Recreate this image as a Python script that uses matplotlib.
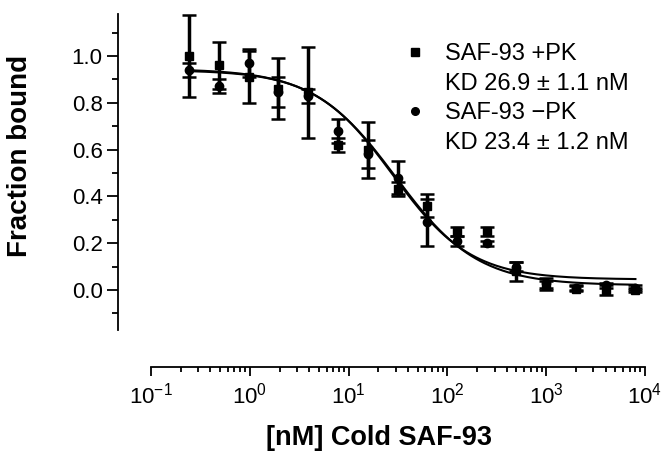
import numpy as np
import matplotlib
matplotlib.use("Agg")
import matplotlib.pyplot as plt
from matplotlib.lines import Line2D
from matplotlib.ticker import LogLocator, FixedLocator, FormatStrFormatter, NullFormatter

plt.rcParams['font.family'] = ['Liberation Sans', 'DejaVu Sans']
plt.rcParams['mathtext.default'] = 'regular'

# concentrations (nM), 2-fold dilution series
conc = [0.244, 0.488, 0.977, 1.95, 3.91, 7.81, 15.6, 31.3, 62.5, 125, 250, 500, 1000, 2000, 4000, 8000]

# SAF-93 +PK (squares)
plus_pk = [1.00, 0.96, 0.91, 0.86, 0.845, 0.62, 0.60, 0.43, 0.36, 0.25, 0.25, 0.08, 0.02, 0.005, 0.00, 0.00]
plus_err = [0.175, 0.10, 0.11, 0.13, 0.195, 0.03, 0.12, 0.03, 0.05, 0.02, 0.02, 0.04, 0.02, 0.01, 0.02, 0.01]

# SAF-93 -PK (circles)
minus_pk = [0.94, 0.87, 0.97, 0.845, 0.83, 0.68, 0.58, 0.48, 0.29, 0.21, 0.20, 0.10, 0.03, 0.01, 0.02, 0.01]
minus_err = [0.03, 0.03, 0.06, 0.065, 0.03, 0.05, 0.06, 0.07, 0.10, 0.02, 0.01, 0.02, 0.02, 0.01, 0.01, 0.01]

# fitted sigmoid parameters (top, bottom, IC50, hill)
fit_plus = (0.945, 0.02, 30.0, 1.05)
fit_minus = (0.94, 0.045, 28.0, 1.10)

labels = ["SAF-93 +PK", "KD 26.9 \u00b1 1.1 nM", "SAF-93 \u2212PK", "KD 23.4 \u00b1 1.2 nM"]


def sigmoid(x, p):
    top, bottom, ic50, hill = p
    return bottom + (top - bottom) / (1 + (x / ic50) ** hill)


fig = plt.figure(figsize=(6.67, 4.51), dpi=100)
ax = fig.add_axes([151 / 667, (451 - 330) / 451, 494 / 667, 316 / 451])

xs = np.logspace(np.log10(conc[0]), np.log10(conc[-1]), 300)
ax.plot(xs, sigmoid(xs, fit_plus), color='black', lw=1.5, zorder=2)
ax.plot(xs, sigmoid(xs, fit_minus), color='black', lw=1.5, zorder=2)

ekw = dict(ls='none', color='black', ecolor='black', elinewidth=2.5,
           capsize=5, capthick=1.8, markersize=6, zorder=3)
ax.errorbar(conc, plus_pk, yerr=plus_err, marker='s', **ekw)
ax.errorbar(conc, minus_pk, yerr=minus_err, marker='o', **ekw)

ax.set_xscale('log')
ax.set_xlim(0.1, 1e4)
ax.set_ylim(-0.171, 1.1795)

for s in ['top', 'right']:
    ax.spines[s].set_visible(False)
ax.spines['left'].set_position(('outward', 23.8))
ax.spines['bottom'].set_position(('outward', 26.6))
ax.spines['left'].set_linewidth(1.3)
ax.spines['bottom'].set_linewidth(1.3)

ax.yaxis.set_major_locator(FixedLocator([0.0, 0.2, 0.4, 0.6, 0.8, 1.0]))
ax.yaxis.set_minor_locator(FixedLocator([-0.1, 0.1, 0.3, 0.5, 0.7, 0.9, 1.1]))
ax.yaxis.set_major_formatter(FormatStrFormatter('%.1f'))
ax.xaxis.set_major_locator(LogLocator(base=10, numticks=10))
ax.xaxis.set_minor_locator(LogLocator(base=10, subs=np.arange(2, 10), numticks=20))
ax.xaxis.set_minor_formatter(NullFormatter())

ax.tick_params(axis='y', which='major', length=8, width=1.3, labelsize=16, pad=3)
ax.tick_params(axis='y', which='minor', length=4, width=1.3)
ax.tick_params(axis='x', which='major', length=6.5, width=1.3, labelsize=16, pad=5)
ax.tick_params(axis='x', which='minor', length=3.5, width=1.3)

ax.set_ylabel('Fraction bound', fontsize=20, fontweight='bold')
ax.yaxis.set_label_coords(-0.239, 0.551)
fig.text(379 / 667, 6 / 451, '[nM] Cold SAF-93', fontsize=19.5, fontweight='bold',
         ha='center', va='baseline')

handles = [Line2D([], [], ls='none', marker='s', color='black', markersize=5.5),
           Line2D([], [], ls='none'),
           Line2D([], [], ls='none', marker='o', color='black', markersize=5.5),
           Line2D([], [], ls='none')]
ax.legend(handles, labels, loc='upper left', bbox_to_anchor=(403 / 667, 1 - 43 / 451),
          bbox_transform=fig.transFigure, frameon=False, fontsize=17,
          handlelength=1.0, handletextpad=0.77, labelspacing=0.32,
          borderpad=0, borderaxespad=0)

fig.savefig('out.png', dpi=100)
